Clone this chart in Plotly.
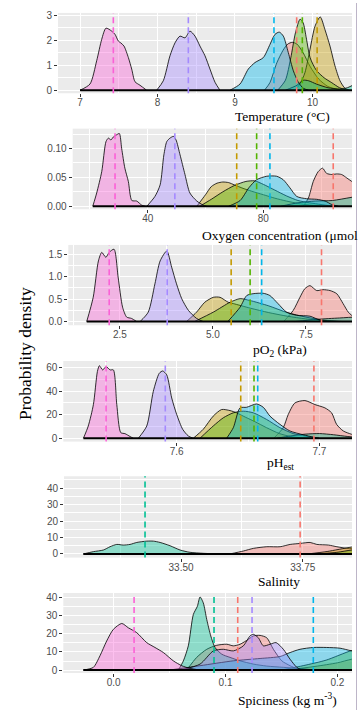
import plotly.graph_objects as go

# Group colours (default ggplot hue palette for seven groups) and drawing order
COLORS = {
    "red": "#F8766D", "gold": "#C49A00", "green": "#53B400", "teal": "#00C094",
    "blue": "#00B6EB", "purple": "#A58AFF", "pink": "#FB61D7",
}
ORDER = ["red", "gold", "green", "teal", "blue", "purple", "pink"]

# Kernel density curves per group: (x values, density values)
temperature = {
    "red": ([9.38, 9.45, 9.54, 9.62, 9.68, 9.74, 9.8, 9.88, 9.97, 10.08, 10.2, 10.32, 10.42],
            [0, 0.3, 1.1, 1.6, 1.85, 1.92, 1.85, 1.5, 0.95, 0.45, 0.15, 0.04, 0]),
    "gold": ([9.774, 9.839, 9.903, 9.968, 10.032, 10.1, 10.161, 10.226, 10.29, 10.355, 10.419, 10.48],
             [0, 0.25, 0.71, 1.64, 2.56, 2.94, 2.43, 1.77, 0.98, 0.38, 0.08, 0]),
    "green": ([9.55, 9.65, 9.72, 9.78, 9.84, 9.88, 9.92, 9.97, 10.05, 10.15, 10.25, 10.35, 10.45],
              [0, 0.4, 1.3, 2.3, 2.85, 2.7, 2.1, 1.3, 0.8, 0.5, 0.3, 0.1, 0]),
    "teal": ([9.65, 9.8, 9.88, 9.95, 10.05, 10.2, 10.35, 10.45, 10.52, 10.6, 10.7, 10.85],
             [0, 0.2, 0.4, 0.38, 0.25, 0.1, 0.05, 0.1, 0.2, 0.3, 0.2, 0]),
    "blue": ([8.935, 9.065, 9.172, 9.258, 9.366, 9.452, 9.516, 9.572, 9.624, 9.688, 9.753, 9.817, 9.882, 9.95],
             [0, 0.25, 0.85, 1.11, 1.31, 1.84, 2.24, 2.33, 2.17, 1.51, 0.78, 0.32, 0.08, 0]),
    "purple": ([7.989, 8.075, 8.161, 8.226, 8.29, 8.355, 8.419, 8.484, 8.548, 8.613, 8.677, 8.742, 8.806],
               [0, 0.38, 1.38, 1.9, 2.17, 2.1, 2.37, 2.17, 1.77, 1.38, 0.85, 0.32, 0]),
    "pink": ([7.0, 7.129, 7.215, 7.28, 7.335, 7.409, 7.452, 7.495, 7.525, 7.568, 7.624, 7.667, 7.71, 7.774, 7.86],
             [0, 0.25, 1.18, 2.04, 2.49, 2.37, 2.24, 1.97, 1.9, 1.77, 1.31, 0.85, 0.34, 0.2, 0]),
}
temperature_means = {"pink": 7.43, "purple": 8.398, "blue": 9.503, "red": 9.796, "green": 9.869, "gold": 10.06}

oxygen = {
    "red": ([93.8, 95.6, 97.3, 99.0, 100.5, 101.9, 103.7, 105.4, 107.1, 108.9, 110.6, 114, 118, 122, 126],
            [0, 0.014, 0.043, 0.06, 0.066, 0.057, 0.055, 0.056, 0.055, 0.049, 0.043, 0.03, 0.015, 0.005, 0]),
    "gold": ([57, 60, 62, 64, 66, 68, 70, 73, 76, 80, 84, 88, 92, 96, 100],
             [0, 0.02, 0.034, 0.04, 0.042, 0.041, 0.037, 0.031, 0.026, 0.02, 0.014, 0.009, 0.005, 0.002, 0]),
    "green": ([58, 62, 66, 70, 74, 77, 80, 84, 88, 92, 96, 100, 104],
              [0, 0.012, 0.025, 0.036, 0.043, 0.044, 0.038, 0.028, 0.018, 0.01, 0.006, 0.003, 0]),
    "teal": ([86, 92, 98, 104, 110, 116, 122, 128],
             [0, 0.006, 0.009, 0.01, 0.015, 0.02, 0.015, 0]),
    "blue": ([68, 72, 75, 77.7, 81.2, 84.6, 86.9, 89.2, 91.6, 95, 98.5, 101.4, 103.7, 106],
             [0, 0.01, 0.032, 0.046, 0.052, 0.052, 0.046, 0.032, 0.017, 0.013, 0.012, 0.009, 0.003, 0]),
    "purple": ([39.7, 42.5, 44.3, 45.6, 46.6, 47.7, 48.9, 49.8, 51.2, 52.9, 54.6, 57.0, 59.2, 60.4],
               [0, 0.017, 0.037, 0.089, 0.112, 0.118, 0.121, 0.115, 0.089, 0.055, 0.023, 0.009, 0.002, 0]),
    "pink": ([21.0, 22.35, 24.1, 25.57, 26.4, 27.3, 28.1, 29.3, 30.2, 31.0, 32.1, 33.3, 34.5, 36.2, 37.9, 39.1],
             [0, 0.023, 0.06, 0.112, 0.118, 0.115, 0.12, 0.124, 0.126, 0.1, 0.066, 0.043, 0.01, 0.009, 0.002, 0]),
}
oxygen_means = {"pink": 28.7, "purple": 49.4, "gold": 70.8, "green": 77.7, "blue": 82.3, "red": 104.2}

po2 = {
    "red": ([6.9, 7.16, 7.34, 7.47, 7.61, 7.79, 7.96, 8.15, 8.33, 8.5, 8.64, 8.73, 8.9, 9.1, 9.3],
            [0, 0.25, 0.54, 0.73, 0.8, 0.69, 0.71, 0.69, 0.62, 0.4, 0.21, 0.14, 0.07, 0.02, 0]),
    "gold": ([4.29, 4.56, 4.78, 5.01, 5.19, 5.41, 5.55, 6.0, 6.5, 7.0, 7.5, 8.0, 8.4],
             [0, 0.21, 0.43, 0.54, 0.54, 0.43, 0.4, 0.3, 0.2, 0.12, 0.06, 0.02, 0]),
    "green": ([4.5, 5.01, 5.46, 5.73, 5.99, 6.5, 7.0, 7.5, 8.0, 8.5],
              [0, 0.21, 0.43, 0.51, 0.47, 0.35, 0.2, 0.1, 0.03, 0]),
    "teal": ([7.2, 7.8, 8.4, 8.9, 9.5, 10.0],
             [0, 0.05, 0.08, 0.1, 0.05, 0]),
    "blue": ([5.4, 5.73, 5.91, 6.08, 6.35, 6.53, 6.75, 6.98, 7.25, 7.61, 7.88, 8.1],
             [0, 0.32, 0.58, 0.62, 0.63, 0.58, 0.4, 0.21, 0.14, 0.12, 0.03, 0]),
    "purple": ([3.04, 3.26, 3.44, 3.58, 3.76, 3.89, 4.02, 4.16, 4.34, 4.56, 4.74],
               [0, 0.21, 0.84, 1.35, 1.57, 1.21, 0.84, 0.51, 0.25, 0.07, 0]),
    "pink": ([1.605, 1.78, 1.92, 2.01, 2.12, 2.21, 2.34, 2.45, 2.57, 2.68, 2.81, 2.95],
             [0, 0.54, 1.35, 1.54, 1.43, 1.54, 1.61, 0.99, 0.32, 0.1, 0.07, 0]),
}
po2_means = {"pink": 2.21, "purple": 3.77, "gold": 5.49, "green": 6.0, "blue": 6.31, "red": 7.92}

ph = {
    "red": ([7.668, 7.6747, 7.6782, 7.6829, 7.6899, 7.6969, 7.7039, 7.7086, 7.7121, 7.7168, 7.7226, 7.73, 7.735],
            [0, 9, 20.2, 30, 32, 28.6, 25.8, 21.6, 11.8, 6.2, 3.4, 1, 0]),
    "gold": ([7.6116, 7.6186, 7.6256, 7.6315, 7.6374, 7.642, 7.648, 7.655, 7.663, 7.672, 7.68, 7.69],
             [0, 7.6, 18.8, 24.4, 23.5, 21.6, 18, 14, 9, 4, 1.5, 0]),
    "green": ([7.6163, 7.6256, 7.6327, 7.6397, 7.6467, 7.6537, 7.663, 7.6724, 7.6817, 7.69, 7.7],
              [0, 10.4, 17.4, 21.6, 23, 21.6, 16, 9, 4, 2, 0]),
    "teal": ([7.67, 7.68, 7.69, 7.7, 7.71, 7.72, 7.73, 7.74],
             [0, 2, 3.5, 4, 3, 1.5, 0.5, 0]),
    "blue": ([7.635, 7.6397, 7.6444, 7.649, 7.656, 7.6607, 7.6654, 7.6724, 7.6794, 7.6887, 7.6957, 7.7],
             [0, 9, 25.8, 26.3, 29.1, 26.3, 18.8, 11.8, 6.2, 3, 1, 0]),
    "purple": ([7.5731, 7.579, 7.5836, 7.5878, 7.5902, 7.593, 7.5965, 7.6, 7.6042, 7.6081, 7.6116],
               [0, 10.4, 39.8, 55.2, 57.1, 53.8, 34.2, 20.2, 7.6, 2, 0]),
    "pink": ([7.5346, 7.538, 7.5416, 7.5444, 7.5458, 7.5481, 7.5505, 7.5533, 7.5556, 7.558, 7.5608, 7.5638, 7.5673, 7.5696],
             [0, 10.4, 28.6, 56.6, 61.6, 58, 60.8, 58, 58, 28.6, 4.8, 3.9, 1.5, 0]),
}
ph_means = {"pink": 7.5505, "purple": 7.592, "gold": 7.6449, "green": 7.6542, "blue": 7.6568, "red": 7.6962}

salinity = {
    "red": ([33.6, 33.628, 33.6486, 33.6761, 33.7034, 33.724, 33.7445, 33.765, 33.7788, 33.8027, 33.82, 33.8405, 33.851, 33.87, 33.9, 33.93],
            [0, 1.8, 3.4, 4.4, 4.4, 5.8, 6.4, 7.0, 5.8, 5.4, 4.4, 3.4, 3.2, 2, 0.5, 0]),
    "gold": ([33.76, 33.8, 33.85, 33.9, 33.95, 34.0],
             [0, 1.5, 4.2, 6, 4, 0]),
    "green": ([33.78, 33.82, 33.85, 33.9, 33.95, 34.0],
              [0, 1.0, 2.4, 4, 3, 0]),
    "teal": ([33.2993, 33.3198, 33.3404, 33.3541, 33.3679, 33.3814, 33.3952, 33.409, 33.4295, 33.4431, 33.4569, 33.4774, 33.498, 33.5185, 33.5458, 33.58],
             [0, 1.4, 2.4, 4.4, 5.8, 5.4, 5.8, 7.0, 7.8, 7.8, 7.0, 5.0, 2.4, 1.0, 0.4, 0]),
}
salinity_means = {"teal": 33.426, "red": 33.7445}

spiciness = {
    "red": ([0.0653, 0.0742, 0.0832, 0.0921, 0.1011, 0.107, 0.113, 0.1204, 0.1249, 0.1309, 0.1368, 0.1428, 0.1503, 0.1577, 0.1666],
            [0, 7.0, 11.5, 13.7, 14.3, 13.4, 14.3, 17, 18.9, 19.2, 17.9, 11.5, 5.1, 2.4, 0]),
    "gold": ([0.155, 0.18, 0.2, 0.2127, 0.23, 0.26, 0.29],
             [0, 2, 4, 6, 8, 5, 0]),
    "green": ([0.15, 0.17, 0.19, 0.2127, 0.23, 0.26, 0.29],
              [0, 2.5, 5.5, 10.8, 13, 8, 0]),
    "teal": ([0.0578, 0.0623, 0.0667, 0.0712, 0.0748, 0.0772, 0.0801, 0.0832, 0.0868, 0.0906, 0.0966, 0.104, 0.113, 0.1249, 0.1368, 0.1517, 0.166, 0.18],
             [0, 5.1, 13.4, 30.8, 35.3, 40.5, 37.2, 28, 18.9, 12.5, 8.8, 7.0, 5.1, 3.3, 2.2, 1.5, 0.8, 0]),
    "blue": ([0.05, 0.0772, 0.107, 0.1309, 0.1488, 0.1577, 0.1666, 0.1785, 0.1905, 0.2024, 0.2127, 0.23, 0.25, 0.27, 0.29],
             [0, 2.4, 5.1, 6.4, 7.5, 9.7, 11.5, 12.5, 12.5, 12.1, 10.6, 8, 4, 1, 0]),
    "purple": ([0.06, 0.0772, 0.0891, 0.098, 0.107, 0.1159, 0.1219, 0.1249, 0.1293, 0.1338, 0.1398, 0.1452, 0.1517, 0.1577, 0.1637, 0.168],
               [0, 3.3, 10.6, 11.5, 10.6, 13.4, 18.9, 19.8, 17.9, 13.4, 14.3, 15.2, 11.5, 6.0, 1.5, 0]),
    "pink": ([-0.0272, -0.0182, -0.0123, -0.0063, -0.0004, 0.0072, 0.0131, 0.0206, 0.0295, 0.0369, 0.0444, 0.0533, 0.0608, 0.0683, 0.0772],
             [0, 1.5, 7.9, 16.1, 22.5, 25.8, 23.4, 20.7, 15.2, 12.5, 9.7, 5.1, 2.4, 0.9, 0]),
}
spiciness_means = {"pink": 0.0182, "teal": 0.0897, "red": 0.1109, "purple": 0.1237, "blue": 0.1785}

W, H = 360, 713
SERIF = "Liberation Serif"
SANS = "Liberation Sans"


def px(x):
    return x / W


def py(y):
    return 1 - y / H


def rgba(hex_color, a):
    h = hex_color.lstrip("#")
    r, g, b = int(h[0:2], 16), int(h[2:4], 16), int(h[4:6], 16)
    return f"rgba({r},{g},{b},{a})"


# panel layout: pixel box (left, top, right, bottom), axis ranges and tick spacing
panels = [
    dict(data=temperature, means=temperature_means, box=(58, 10, 352, 91),
         xr=(6.716, 10.51), yr=(-0.12, 3.1), xt=(0, 1, ""), yt=(0, 1, ""),
         title="Temperature (°C)", tpos=(282, 114, "center")),
    dict(data=oxygen, means=oxygen_means, box=(72.7, 126.7, 352, 208),
         xr=(14.05, 110.7), yr=(-0.0052, 0.1345), xt=(0, 40, ""), yt=(0, 0.05, ".2f"),
         title="Oxygen concentration (μmol kg<sup>-1</sup>)", tpos=(200, 233, "left")),
    dict(data=po2, means=po2_means, box=(68.3, 244, 352, 325),
         xr=(1.11, 8.74), yr=(-0.082, 1.705), xt=(0, 2.5, ".1f"), yt=(0, 0.5, ".1f"),
         title="pO<sub>2</sub> (kPa)", tpos=(280, 350, "center")),
    dict(data=ph, means=ph_means, box=(63.3, 361, 352, 442.3),
         xr=(7.5205, 7.7229), yr=(-2.8, 65.6), xt=(7.6, 0.1, ".1f"), yt=(0, 20, ""),
         title="pH<sub>est</sub>", tpos=(280, 464, "center")),
    dict(data=salinity, means=salinity_means, box=(64, 477.3, 352, 559.3),
         xr=(33.2596, 33.851), yr=(-2.2, 47.2), xt=(33.5, 0.25, ".2f"), yt=(0, 10, ""),
         title="Salinity", tpos=(279, 583, "center")),
    dict(data=spiciness, means=spiciness_means, box=(63.3, 595, 352, 675.7),
         xr=(-0.0451, 0.2131), yr=(-1.65, 42.7), xt=(0, 0.1, ".1f"), yt=(0, 10, ""),
         title="Spiciness (kg m<sup>-3</sup>)", tpos=(287, 702, "center")),
]

fig = go.Figure()
shapes = []
annotations = []
layout_axes = {}

for i, p in enumerate(panels, start=1):
    xa = "x" if i == 1 else f"x{i}"
    ya = "y" if i == 1 else f"y{i}"
    xkey = "xaxis" if i == 1 else f"xaxis{i}"
    ykey = "yaxis" if i == 1 else f"yaxis{i}"
    left, top, right, bottom = p["box"]

    all_x = []
    for g in ORDER:
        if g not in p["data"]:
            continue
        xs, ys = p["data"][g]
        all_x.extend(xs)
        fig.add_trace(go.Scatter(
            x=xs, y=ys, mode="lines", xaxis=xa, yaxis=ya,
            line=dict(color="black", width=0.8, shape="spline", smoothing=0.7),
            fill="tozeroy", fillcolor=rgba(COLORS[g], 0.4),
            showlegend=False, hoverinfo="skip",
        ))
    # zero baseline under the densities
    fig.add_trace(go.Scatter(
        x=[min(all_x), max(all_x)], y=[0, 0], mode="lines", xaxis=xa, yaxis=ya,
        line=dict(color="black", width=2), showlegend=False, hoverinfo="skip",
    ))

    # group means as dashed vertical lines
    for g in ORDER:
        if g in p["means"]:
            m = p["means"][g]
            shapes.append(dict(
                type="line", xref=xa, yref=f"{ya} domain", x0=m, x1=m, y0=0, y1=1,
                line=dict(color=COLORS[g], width=1.6, dash="6px,4px"), layer="above",
            ))

    common = dict(
        showgrid=True, gridcolor="white", gridwidth=1.1,
        zeroline=False, showline=False, ticks="outside", ticklen=3, tickwidth=1,
        tickcolor="#333333", tickfont=dict(family=SANS, size=10, color="#4D4D4D"),
        tickmode="linear",
    )
    x0t, xdt, xfmt = p["xt"]
    y0t, ydt, yfmt = p["yt"]
    layout_axes[xkey] = dict(
        common, domain=[px(left), px(right)], range=list(p["xr"]), anchor=ya,
        tick0=x0t, dtick=xdt, tickformat=xfmt, ticklabelstandoff=-3,
        minor=dict(showgrid=True, gridcolor="white", gridwidth=0.55, tick0=x0t, dtick=xdt / 2),
    )
    layout_axes[ykey] = dict(
        common, domain=[py(bottom), py(top)], range=list(p["yr"]), anchor=xa,
        tick0=y0t, dtick=ydt, tickformat=yfmt,
        minor=dict(showgrid=True, gridcolor="white", gridwidth=0.55, tick0=y0t, dtick=ydt / 2),
    )

    tx, ty, anchor = p["tpos"]
    annotations.append(dict(
        text=p["title"], xref="paper", yref="paper", x=px(tx), y=py(ty),
        xanchor=anchor, yanchor="middle", showarrow=False,
        font=dict(family=SERIF, size=13.5, color="black"),
    ))

annotations.append(dict(
    text="Probability density", xref="paper", yref="paper", x=px(25), y=py(354),
    xanchor="center", yanchor="middle", textangle=-90, showarrow=False,
    font=dict(family=SERIF, size=17.5, color="black"),
))

# thin frame line on the right edge
shapes.append(dict(
    type="line", xref="paper", yref="paper", x0=px(356.5), x1=px(356.5), y0=0, y1=1,
    line=dict(color="#BDB5C8", width=1),
))

fig.update_layout(
    width=W, height=H, margin=dict(l=0, r=0, t=0, b=0),
    paper_bgcolor="white", plot_bgcolor="#EBEBEB",
    shapes=shapes, annotations=annotations, showlegend=False,
    **layout_axes,
)

fig.write_html("out.html")
